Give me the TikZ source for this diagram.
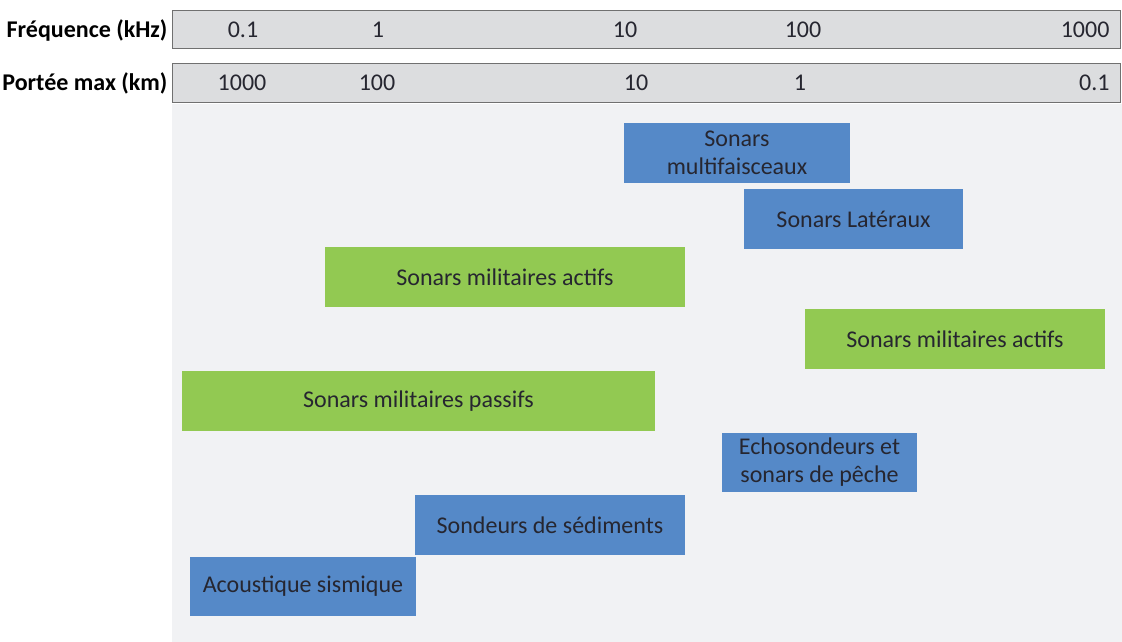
\documentclass[tikz,border=0pt]{standalone}
\usepackage{fontspec}
\setmainfont{Carlito}
\definecolor{barfill}{HTML}{DCDDDF}
\definecolor{barline}{HTML}{707070}
\definecolor{panel}{HTML}{F1F2F4}
\definecolor{bluebox}{HTML}{5589C8}
\definecolor{greenbox}{HTML}{92C952}
\definecolor{txt}{HTML}{262630}
\tikzset{
  bar/.style={draw=barline, line width=1pt, fill=barfill},
  blk/.style={fill=bluebox, draw=none},
  grn/.style={fill=greenbox, draw=none},
  lbl/.style={text=txt, font=\fontsize{24}{28}\selectfont, align=center},
  tick/.style={text=txt, font=\fontsize{24}{28}\selectfont},
  head/.style={text=black, font=\bfseries\fontsize{24}{28}\selectfont, anchor=east}
}
\begin{document}
\begin{tikzpicture}[x=1pt,y=-1pt]
\useasboundingbox (0,0) rectangle (1122,642);
\fill[panel] (172,104) rectangle (1122,642);
\draw[bar] (172,11) rectangle (1120,49);
\draw[bar] (172,64) rectangle (1120,102);
\node[head] (hf) at (171,30) {Fréquence (kHz)};
\node[head] (hp) at (171,83) {Portée max (km)};
\node[tick] (f1) at (243,30) {0.1};
\node[tick] (f2) at (378,30) {1};
\node[tick] (f3) at (625,30) {10};
\node[tick] (f4) at (803,30) {100};
\node[tick, anchor=east] (f5) at (1113,30) {1000};
\node[tick] (p1) at (242,83) {1000};
\node[tick] (p2) at (377,83) {100};
\node[tick] (p3) at (636,83) {10};
\node[tick] (p4) at (800,83) {1};
\node[tick, anchor=east] (p5) at (1113,83) {0.1};
\fill[blk] (624,123) rectangle (850,183);
\node[lbl] (b1) at (737,153) {Sonars\\multifaisceaux};
\fill[blk] (744,189) rectangle (963,249);
\node[lbl] (b2) at (853.5,219) {Sonars Latéraux};
\fill[grn] (325,247) rectangle (685,307);
\node[lbl] (g1) at (505,277) {Sonars militaires actifs};
\fill[grn] (805,309) rectangle (1105,369);
\node[lbl] (g2) at (955,339) {Sonars militaires actifs};
\fill[grn] (182,371) rectangle (655,431);
\node[lbl] (g3) at (418.5,401) {Sonars militaires passifs};
\fill[blk] (722,433) rectangle (917,492);
\node[lbl] (b3) at (819.5,462.5) {Echosondeurs et\\sonars de pêche};
\fill[blk] (415,495) rectangle (685,555);
\node[lbl] (b4) at (550,525) {Sondeurs de sédiments};
\fill[blk] (190,557) rectangle (416,616);
\node[lbl] (b5) at (303,586.5) {Acoustique sismique};
\end{tikzpicture}
\end{document}
